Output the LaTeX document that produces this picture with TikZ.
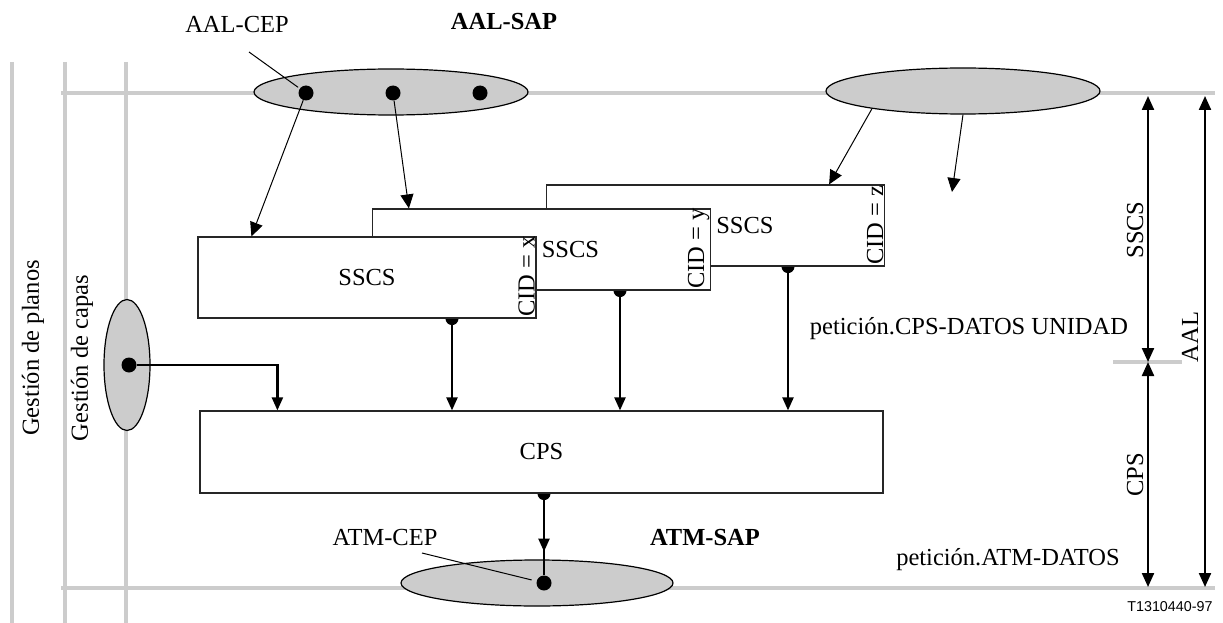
\documentclass[tikz,border=0pt]{standalone}
\usepackage{fontspec}
\setmainfont{Liberation Serif}
\newfontfamily\refsans{Liberation Sans}
\usepackage{tikz}
\usetikzlibrary{arrows.meta,shapes.geometric,backgrounds}
\definecolor{planegray}{HTML}{CCCCCC}

\begin{document}
\begin{tikzpicture}[x=1pt,y=-1pt,>={Triangle[length=13pt,width=11pt]},
                    font=\fontsize{24.5}{29}\selectfont,
                    plane/.style={draw=planegray,line width=4pt},
                    sap/.style={ellipse,draw,fill=planegray,line width=1.2pt,inner sep=0pt},
                    cep/.style={circle,fill=black,inner sep=0pt,minimum size=15pt},
                    stub/.style={circle,fill=black,inner sep=0pt,minimum size=13pt},
                    layer/.style={draw=black!85,fill=white,line width=1.2pt,
                                  minimum width=338pt,minimum height=81pt,inner sep=0pt},
                    cid/.style={rotate=90,anchor=south west,inner sep=1.5pt},
                    bold/.style={font=\fontsize{24.5}{29}\selectfont\bfseries},
                    prim/.style={->,line width=2.2pt},
                    bind/.style={->,line width=1pt,>={Triangle[length=14pt,width=13pt]}},
                    dim/.style={<->,line width=2.2pt,>={Triangle[length=14pt,width=12pt]}}]

  \useasboundingbox (0,0) rectangle (1223,623);

  \draw[plane] (12,62) -- (12,623);
  \draw[plane] (65,62) -- (65,623);
  \draw[plane] (126,62) -- (126,623);
  \draw[plane] (61,93) -- (1215,93);
  \draw[plane] (61,588) -- (1215,588);
  \draw[plane] (1113,362) -- (1182,362);

  \node[sap,minimum width=274pt,minimum height=46pt] (aalsap)  at (391,92)  {};
  \node[sap,minimum width=274pt,minimum height=46pt] (aalsapr) at (963,91)  {};
  \node[sap,minimum width=272pt,minimum height=46pt] (atmsap)  at (537,583) {};
  \node[sap,minimum width=46pt,minimum height=131pt] (lmsap)   at (127,365) {};

  \node[cep] (cepa)   at (306,93)  {};
  \node[cep] (cepb)   at (393,93)  {};
  \node[cep] (cepc)   at (480,93)  {};
  \node[cep] (atmcep) at (544,583) {};
  \node[cep] (lmcep)  at (129,365) {};

  \node[layer] (sscsz) at (715.5,225.5) {};
  \node[layer] (sscsy) at (541.5,249.5) {};
  \node[layer] (sscsx) at (367,277.5)   {SSCS};
  \node[layer,minimum width=683pt,minimum height=82pt] (cps) at (541.5,452) {CPS};

  \begin{pgfonlayer}{background}
    \node[stub] (ox)   at ([xshift=85pt]sscsx.south)   {};
    \node[stub] (oy)   at ([xshift=78.5pt]sscsy.south) {};
    \node[stub] (oz)   at ([xshift=72.5pt]sscsz.south) {};
    \node[stub] (ocps) at (cps.south -| atmcep)        {};
  \end{pgfonlayer}

  \node[anchor=west,inner sep=5pt] (sscsyl) at (sscsx.east |- sscsy) {SSCS};
  \node[anchor=west,inner sep=5pt] (sscszl) at (sscsy.east |- sscsz) {SSCS};
  \node[cid] (cidx) at (sscsx.south east) {CID = x};
  \node[cid] (cidy) at (sscsy.south east) {CID = y};
  \node[cid] (cidz) at (sscsz.south east) {CID = z};

  \node       (aalcep)  at (237,25)  {AAL-CEP};
  \node[bold] (aalsapl) at (504,22)  {AAL-SAP};
  \node       (atmcepl) at (385,538) {ATM-CEP};
  \node[bold] (atmsapl) at (705,538) {ATM-SAP};
  \node       (cpsreq)  at (969,329) {petición.CPS-DATOS UNIDAD};
  \node       (atmreq)  at (1008,560) {petición.ATM-DATOS};
  \node[anchor=east,font=\refsans\fontsize{14.3}{16}\selectfont] (figno) at (1216,607) {T1310440-97};

  \node[rotate=90] (plname) at (33,348)   {Gestión de planos};
  \node[rotate=90] (lmname) at (82,358)   {Gestión de capas};
  \node[rotate=90] (sscsd)  at (1135,230) {SSCS};
  \node[rotate=90] (cpsd)   at (1135,475) {CPS};
  \node[rotate=90] (aald)   at (1190,337) {AAL};

  \coordinate (aalptr) at (249,52);
  \coordinate (atmptr) at (422,553);
  \coordinate (free)   at (952,192);
  \coordinate (sscstop) at (1148,96);
  \coordinate (sscsbot) at (1148,362);
  \coordinate (cpsbot)  at (1148,587);
  \coordinate (aaltop)  at (1205,96);
  \coordinate (aalbot)  at (1205,587);

  \draw[line width=1pt,shorten >=2pt] (aalptr) -- (cepa);
  \draw[line width=1pt,shorten >=5pt] (atmptr) -- (atmcep);

  \path[bind] (cepa)         edge ([xshift=54pt]sscsx.north west)
              (cepb)         edge ([xshift=37pt]sscsy.north west)
              (aalsapr.191)  edge ([xshift=-56pt]sscsz.north east)
              (aalsapr.south) edge (free);

  \path[prim] (ox) edge (ox |- cps.north)
              (oy) edge (oy |- cps.north)
              (oz) edge (oz |- cps.north);
  \draw[prim] (lmcep) -| ([xshift=78pt]cps.north west);
  \draw[line width=2.2pt] (ocps) -- (atmcep);
  \draw[prim] (ocps) -- ([yshift=-58pt]ocps.center);

  \draw[dim] (sscstop) -- (sscsbot);
  \draw[dim] (sscsbot) -- (cpsbot);
  \draw[dim] (aaltop) -- (aalbot);
\end{tikzpicture}
\end{document}
